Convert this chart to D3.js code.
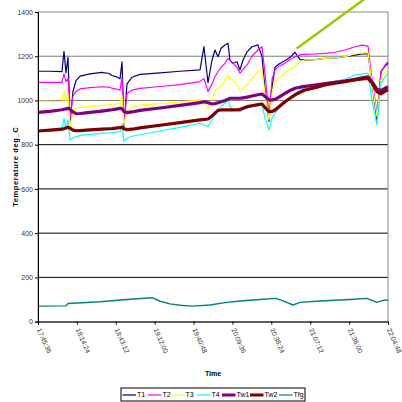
<!DOCTYPE html>
<html>
<head>
<meta charset="utf-8">
<script src="https://cdn.jsdelivr.net/npm/d3@7"></script>
<style>
  html, body { margin: 0; padding: 0; background: #fff; }
  svg { display: block; font-family: "Liberation Sans", Arial, sans-serif; }
</style>
</head>
<body>
<svg id="chart" width="402" height="402"></svg>
<script>
// Sample times shared by the thermocouple and wall series
const times = ["17:45:36","17:54:30","18:03:20","18:04:50","18:06:20","18:07:50","18:09:20","18:11:30","18:13:45","18:16:45",
  "18:24:05","18:33:00","18:38:10","18:40:25","18:43:20","18:46:20","18:47:50","18:49:15","18:51:30","18:55:15",
  "19:01:10","19:16:00","19:30:45","19:45:35","19:48:30","19:51:30","19:54:30","19:56:40","19:58:55","20:01:10",
  "20:04:05","20:06:20","20:07:45","20:10:00","20:13:00","20:15:10","20:17:25","20:20:25","20:24:05","20:28:30",
  "20:31:30","20:33:45","20:36:40","20:38:55","20:41:05","20:44:05","20:48:30","20:52:15","20:55:55","20:59:40",
  "21:03:20","21:10:45","21:18:10","21:25:35","21:32:55","21:40:20","21:45:35","21:50:00","21:52:55","21:56:40",
  "21:59:35","22:02:35","22:04:48"];

const T1 = [1132,1132,1130,1222,1125,1195,905,1040,1090,1110,
  1120,1127,1122,1113,1108,1098,1175,880,1075,1105,
  1118,1125,1132,1138,1243,1080,1183,1228,1198,1236,
  1251,1258,1183,1168,1175,1138,1183,1220,1243,1251,
  1198,1048,905,1062,1150,1165,1180,1195,1218,1185,
  1182,1185,1190,1192,1198,1205,1210,1212,1080,910,
  1130,1155,1168];

const T2 = [1082,1082,1082,1120,1085,1100,920,1020,1040,1052,
  1058,1062,1060,1055,1052,1047,1105,900,1030,1047,
  1055,1063,1072,1085,1100,1040,1075,1107,1130,1150,
  1168,1190,1180,1168,1150,1123,1140,1160,1200,1228,
  1243,1120,925,1095,1138,1155,1168,1185,1198,1206,
  1208,1210,1213,1218,1228,1243,1250,1246,1100,940,
  1125,1160,1175];

const T3 = [997,996,995,1045,994,1032,880,950,965,968,
  972,978,980,982,984,987,1024,889,955,968,
  979,986,994,1002,990,965,1002,1047,1055,1062,
  1090,1115,1100,1093,1070,1047,1055,1070,1100,1130,
  1138,1030,912,1032,1085,1100,1123,1140,1153,1175,
  1183,1185,1190,1193,1198,1210,1215,1216,1080,927,
  1093,1125,1145];

const T4 = [860,862,865,919,870,912,821,830,836,842,
  847,851,854,855,857,859,895,814,830,838,
  845,862,878,897,890,881,915,942,960,972,
  987,1002,975,957,952,949,958,965,972,976,
  979,920,866,920,942,965,994,1015,1032,1050,
  1060,1072,1080,1088,1096,1115,1120,1123,1000,889,
  1078,1105,1123];

const Tw1 = [946,951,958,960,962,965,960,948,940,941,
  946,952,956,958,961,965,962,950,945,948,
  955,966,978,990,994,990,984,986,990,994,
  1000,1006,1010,1010,1010,1010,1012,1015,1020,1026,
  1029,1018,1003,1002,1005,1015,1032,1045,1055,1060,
  1064,1070,1076,1082,1088,1096,1102,1107,1085,1050,
  1045,1055,1062];

const Tw2 = [862,866,870,872,876,878,875,866,863,864,
  867,870,872,873,875,877,878,872,868,870,
  876,888,900,912,914,916,930,942,955,957,
  957,957,957,957,958,960,965,972,976,981,
  984,968,950,950,957,972,994,1010,1025,1037,
  1047,1058,1070,1078,1085,1093,1097,1100,1080,1040,
  1030,1042,1048];

// Flue gas is logged on its own, coarser schedule
const tfgTimes = ["17:45:36","18:06:20","18:07:50","18:31:30","18:53:45","19:10:00","19:16:00","19:23:20","19:30:45","19:40:25",
  "19:53:00","20:04:05","20:15:10","20:30:00","20:41:50","20:48:30","20:54:25","20:59:40","21:14:25","21:36:40",
  "21:49:15","21:52:55","21:56:40","22:01:05","22:04:48"];
const Tfg = [70,71,82,90,101,108,92,80,74,70,
  75,86,93,100,105,90,75,87,93,100,
  105,96,87,96,98];

// Axis ticks
const yTicks = [0,200,400,600,800,1000,1200,1400];
const xTickLabels = ["17:45:36","18:14:24","18:43:12","19:12:00","19:40:48","20:09:36","20:38:24","21:07:12","21:36:00","22:04:48"];

// Pointer line drawn over the chart (time, value at each end)
const pointerTimes = ["20:57:10","21:58:55"];
const pointerValues = [1235,1510];

const seriesNames = ["T1","T2","T3","T4","Tw1","Tw2","Tfg"];
const seriesColors = ["#000080","#ff00ff","#ffff00","#00ffff","#800080","#800000","#008080"];
const seriesWidths = [1.2,1.2,1.2,1.2,3.2,3.2,1.4];

const parse = d3.timeParse("%H:%M:%S");
const svg = d3.select("#chart");

const plotLeft = 38, plotRight = 388, plotTop = 12, plotBottom = 321.6;
const x = d3.scaleTime().domain([parse(xTickLabels[0]), parse(xTickLabels[xTickLabels.length - 1])]).range([plotLeft, plotRight]);
const y = d3.scaleLinear().domain([0, 1400]).range([plotBottom, plotTop]);

// Horizontal gridlines (the upper ones print lighter)
svg.append("g").selectAll("line").data(yTicks.filter(v => v > 0 && v < 1400)).join("line")
  .attr("x1", plotLeft).attr("x2", plotRight)
  .attr("y1", d => y(d)).attr("y2", d => y(d))
  .attr("stroke", d => d >= 1000 ? "#7a7a7a" : "#000").attr("stroke-width", 1);

// Plot area frame
svg.append("rect").attr("x", plotLeft).attr("y", y(1400)).attr("width", plotRight - plotLeft).attr("height", plotBottom - y(1400))
  .attr("fill", "none").attr("stroke", "#8a8a8a").attr("stroke-width", 1);

// Series
const data = [
  {name: "T1", t: times, v: T1},
  {name: "T2", t: times, v: T2},
  {name: "T3", t: times, v: T3},
  {name: "T4", t: times, v: T4},
  {name: "Tw1", t: times, v: Tw1},
  {name: "Tw2", t: times, v: Tw2},
  {name: "Tfg", t: tfgTimes, v: Tfg}
];
const line = d3.line().x(d => x(d[0])).y(d => y(d[1]));
data.forEach((s, i) => {
  const pts = s.t.map((t, k) => [parse(t), s.v[k]]);
  svg.append("path").datum(pts)
    .attr("d", line)
    .attr("fill", "none")
    .attr("stroke", seriesColors[i])
    .attr("stroke-width", seriesWidths[i])
    .attr("stroke-linejoin", "round");
});

// Axes
const yAxis = svg.append("g").attr("transform", `translate(${plotLeft},0)`)
  .call(d3.axisLeft(y).tickValues(yTicks).tickSize(3).tickPadding(2).tickFormat(d3.format("d")));
yAxis.select(".domain").attr("stroke", "#000");
yAxis.selectAll("text").attr("font-size", 7).attr("fill", "#333");

const xAxis = svg.append("g").attr("transform", `translate(0,${plotBottom})`)
  .call(d3.axisBottom(x).tickValues(xTickLabels.map(parse)).tickSize(3).tickFormat(d3.timeFormat("%H:%M:%S")));
xAxis.select(".domain").attr("stroke", "#000");
xAxis.selectAll("text")
  .attr("font-size", 6.8).attr("fill", "#333")
  .attr("text-anchor", "start")
  .attr("dy", "0.35em")
  .attr("transform", "translate(0,6) rotate(66)")
  .attr("y", 0).attr("x", 1);

// Axis titles
svg.append("text")
  .attr("transform", `translate(18,${(plotTop + plotBottom) / 2}) rotate(-90)`)
  .attr("text-anchor", "middle")
  .attr("font-size", 7.5).attr("font-weight", "bold").attr("letter-spacing", 0.6)
  .text("Temperature deg_C");
svg.append("text")
  .attr("x", (plotLeft + plotRight) / 2).attr("y", 376)
  .attr("text-anchor", "middle")
  .attr("font-size", 7).attr("font-weight", "bold")
  .text("Time");

// Pointer line
svg.append("line")
  .attr("x1", x(parse(pointerTimes[0]))).attr("y1", y(pointerValues[0]))
  .attr("x2", x(parse(pointerTimes[1]))).attr("y2", y(pointerValues[1]))
  .attr("stroke", "#99cc00").attr("stroke-width", 2.5);

// Legend
const legend = svg.append("g");
legend.append("rect").attr("x", 121).attr("y", 388).attr("width", 184).attr("height", 13)
  .attr("fill", "#fff").attr("stroke", "#000").attr("stroke-width", 1);
const legendX = [122.5, 148, 171, 197, 222, 250, 279];
seriesNames.forEach((n, i) => {
  const g = legend.append("g").attr("transform", `translate(${legendX[i]},395)`);
  g.append("line").attr("x1", 0).attr("x2", 13.5).attr("y1", 0).attr("y2", 0)
    .attr("stroke", seriesColors[i]).attr("stroke-width", seriesWidths[i] > 2 ? 3 : 1.2);
  g.append("text").attr("x", 14.5).attr("y", 0).attr("dy", "0.35em")
    .attr("font-size", 7).attr("fill", "#000").text(n);
});
</script>
</body>
</html>
